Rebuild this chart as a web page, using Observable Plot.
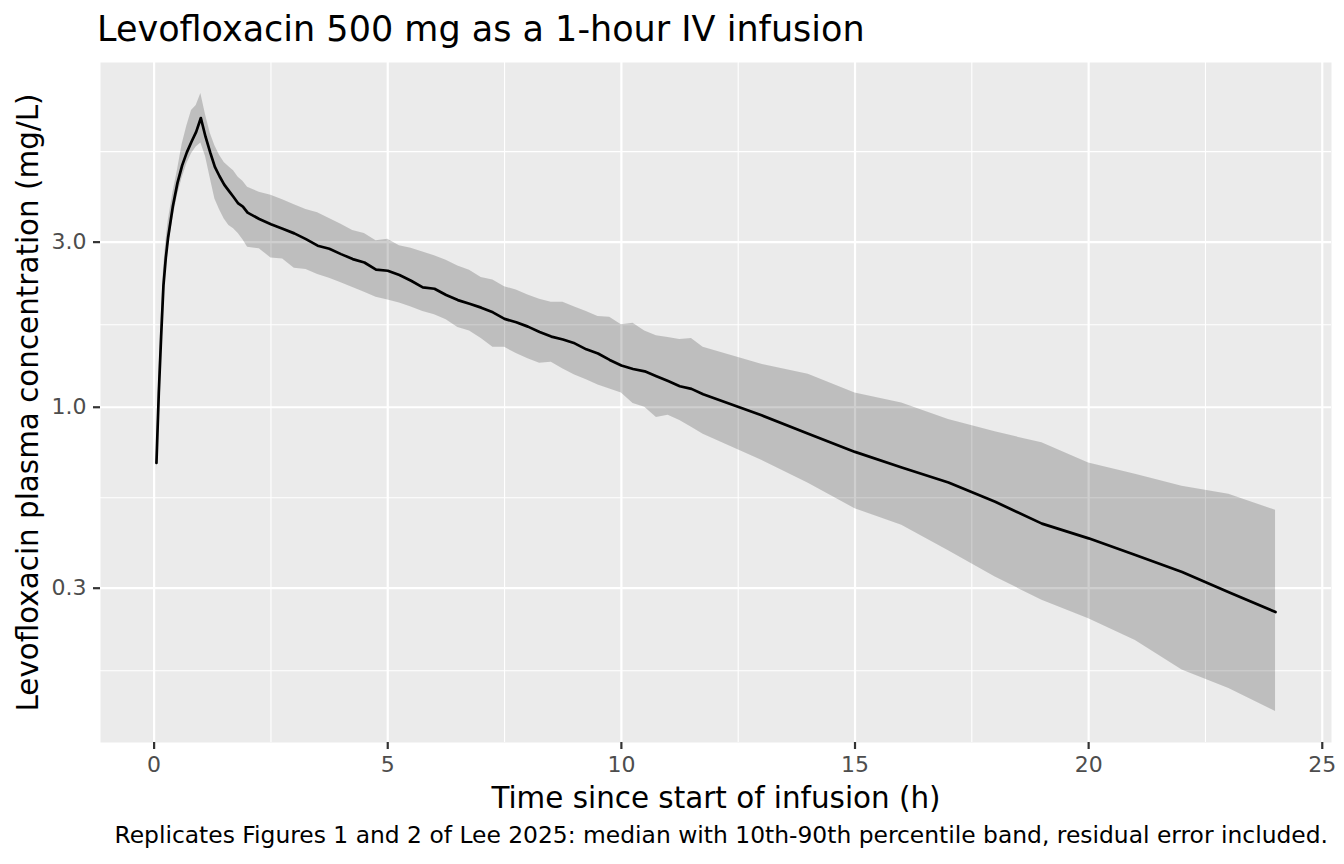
<!DOCTYPE html>
<html><head><meta charset="utf-8">
<script src="https://cdn.jsdelivr.net/npm/d3@7"></script>
<script src="https://cdn.jsdelivr.net/npm/@observablehq/plot@0.6"></script>
<style>
html,body{margin:0;padding:0;background:#fff;}
body{width:1344px;height:864px;position:relative;overflow:hidden;font-family:"DejaVu Sans",sans-serif;}
#title{position:absolute;left:97px;top:9px;font-size:35px;line-height:41px;color:#000;white-space:nowrap;}
#chart{position:absolute;left:0;top:56px;}
#caption{position:absolute;right:16px;top:822px;font-size:23.4px;line-height:26px;color:#000;white-space:nowrap;}
</style></head><body>
<div id="title">Levofloxacin 500 mg as a 1-hour IV infusion</div>
<div id="chart"></div>
<div id="caption">Replicates Figures 1 and 2 of Lee 2025: median with 10th-90th percentile band, residual error included.</div>
<script>
const times = [0.05,0.1,0.15,0.2,0.25,0.3,0.4,0.5,0.6,0.7,0.8,0.9,1.0,
  1.1,1.2,1.3,1.4,1.5,1.6,1.7,1.8,1.9,2.0,
  2.25,2.5,2.75,3.0,3.25,3.5,3.75,4.0,4.25,4.5,4.75,5.0,5.25,5.5,5.75,6.0,6.25,6.5,6.75,7.0,
  7.25,7.5,7.75,8.0,8.25,8.5,8.75,9.0,9.25,9.5,9.75,10.0,10.25,10.5,10.75,11.0,11.25,11.5,11.75,
  13,14,15,16,17,18,19,20,21,22,23,24];
const median = [0.69,1.10,1.60,2.25,2.70,3.10,3.80,4.45,5.0,5.45,5.85,6.25,6.85,
  6.05,5.45,4.95,4.65,4.40,4.22,4.05,3.88,3.80,3.65,
  3.50,3.38,3.28,3.18,3.06,2.93,2.87,2.77,2.68,2.62,2.50,2.48,2.41,2.32,2.22,2.20,2.11,2.04,1.99,1.94,
  1.88,1.80,1.76,1.71,1.65,1.60,1.57,1.53,1.47,1.43,1.37,1.32,1.29,1.27,1.23,1.19,1.15,1.13,1.09,
  0.948,0.839,0.743,0.67,0.606,0.533,0.461,0.418,0.374,0.334,0.292,0.256];
const p90 = [0.74,1.22,1.80,2.50,3.0,3.45,4.15,4.85,5.75,6.5,7.2,7.45,8.07,
  7.0,6.2,5.7,5.35,5.1,4.95,4.82,4.62,4.50,4.32,
  4.18,4.10,3.98,3.85,3.73,3.65,3.51,3.38,3.24,3.18,3.03,3.06,2.93,2.88,2.81,2.74,2.66,2.56,2.49,2.37,
  2.33,2.23,2.18,2.11,2.05,2.01,2.01,1.95,1.89,1.83,1.82,1.73,1.75,1.66,1.61,1.59,1.57,1.58,1.49,
  1.331,1.245,1.10,1.029,0.921,0.849,0.789,0.690,0.640,0.591,0.561,0.504];
const p10 = [0.65,1.02,1.48,2.08,2.5,2.88,3.5,4.1,4.6,5.05,5.4,5.65,5.8,
  5.3,4.6,4.0,3.72,3.5,3.35,3.28,3.18,3.05,2.90,
  2.87,2.70,2.68,2.52,2.50,2.42,2.36,2.29,2.22,2.15,2.08,2.04,2.00,1.95,1.89,1.85,1.79,1.70,1.66,1.58,
  1.49,1.49,1.43,1.38,1.34,1.35,1.29,1.24,1.20,1.16,1.13,1.10,1.025,1.0,0.934,0.948,0.915,0.875,0.835,
  0.703,0.603,0.509,0.456,0.385,0.323,0.277,0.245,0.212,0.174,0.154,0.132];
const xBreaks = [0,5,10,15,20,25];
const xMinor = [2.5,7.5,12.5,17.5,22.5];
const yBreaks = [0.3,1,3];
const yMinor = [0.1732,0.5477,1.732,5.477];
const xTitle = "Time since start of infusion (h)";
const yTitle = "Levofloxacin plasma concentration (mg/L)";

const rows = times.map((t,i)=>({t, med:median[i], lo:p10[i], hi:p90[i]}));
const xMin = d3.min(times), xMax = d3.max(times), xPad = (xMax-xMin)*0.05;
const lmin = Math.log10(d3.min(p10)), lmax = Math.log10(d3.max(p90)), lpad = (lmax-lmin)*0.05;

const chart = Plot.plot({
  width:1344, height:764, marginTop:6, marginBottom:78, marginLeft:100, marginRight:13,
  style:{fontFamily:"DejaVu Sans", background:"transparent", overflow:"visible"},
  x:{domain:[xMin-xPad, xMax+xPad]},
  y:{type:"log", domain:[10**(lmin-lpad), 10**(lmax+lpad)]},
  marks:[
    Plot.frame({fill:"#EBEBEB", stroke:"none"}),
    Plot.ruleY(yMinor,{stroke:"#fff", strokeWidth:1.1}),
    Plot.ruleX(xMinor,{stroke:"#fff", strokeWidth:1.1}),
    Plot.ruleY(yBreaks,{stroke:"#fff", strokeWidth:2.2}),
    Plot.ruleX(xBreaks,{stroke:"#fff", strokeWidth:2.2}),
    Plot.areaY(rows,{x:"t", y1:"lo", y2:"hi", fill:"#000", fillOpacity:0.19}),
    Plot.lineY(rows,{x:"t", y:"med", stroke:"#000", strokeWidth:2.7}),
    Plot.axisX(xBreaks,{tickSize:7, tickPadding:7, stroke:"#333", strokeWidth:2.2, fill:"#4D4D4D", fontSize:22, label:null, tickFormat:d=>String(d)}),
    Plot.axisY(yBreaks,{tickSize:7, tickPadding:7, stroke:"#333", strokeWidth:2.2, fill:"#4D4D4D", fontSize:22, label:null, tickFormat:d=>d.toFixed(1)}),
    Plot.text([xTitle],{text:d=>d, frameAnchor:"bottom", dy:45, lineAnchor:"top", fontSize:29.4, fill:"#000"}),
    Plot.text([yTitle],{text:d=>d, frameAnchor:"left", dx:-72, rotate:-90, textAnchor:"middle", lineAnchor:"middle", fontSize:29.4, fill:"#000"})
  ]
});
document.getElementById("chart").appendChild(chart);
</script>
</body></html>
